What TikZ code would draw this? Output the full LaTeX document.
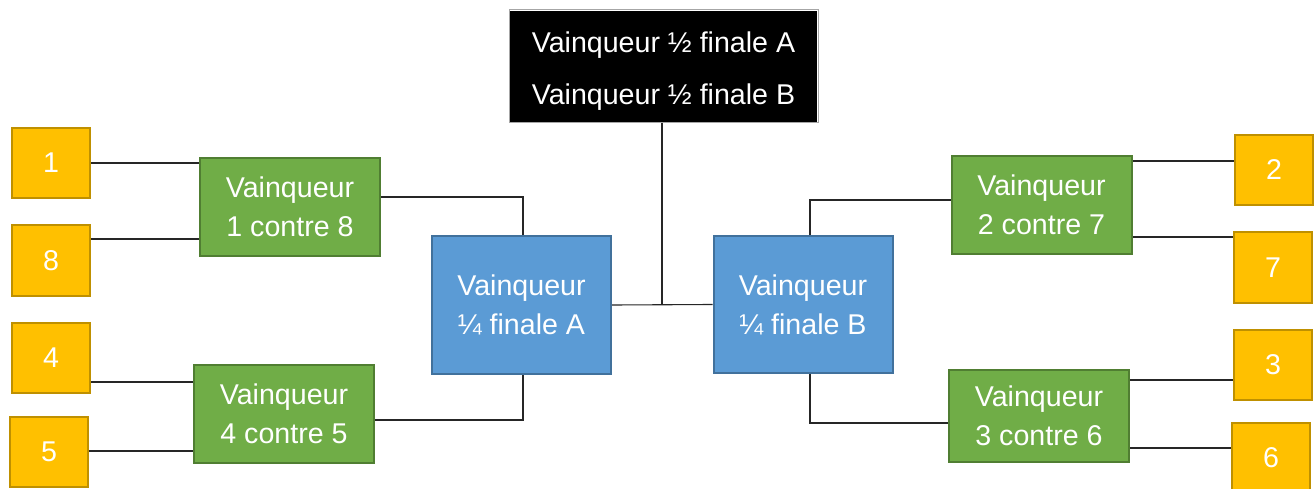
\documentclass[tikz,border=0pt]{standalone}
\usepackage{fontspec}
\setmainfont{Liberation Sans}
\definecolor{yellowfill}{HTML}{FFC000}
\definecolor{yellowline}{HTML}{BF9000}
\definecolor{greenfill}{HTML}{70AD47}
\definecolor{greenline}{HTML}{507E32}
\definecolor{bluefill}{HTML}{5B9BD5}
\definecolor{blueline}{HTML}{41719C}
\tikzset{
  base/.style={font=\fontsize{28.6}{39}\selectfont, text=white, align=center, inner sep=0pt, line width=2pt},
  seed/.style={base, fill=yellowfill, draw=yellowline, minimum width=78pt, minimum height=70pt},
  match/.style={base, fill=greenfill, draw=greenline, minimum width=180pt, minimum height=98pt},
  quarter/.style={base, fill=bluefill, draw=blueline, minimum width=179pt, minimum height=138pt},
  final/.style={base, fill=black, minimum width=307pt, minimum height=55.5pt, text depth=0pt},
  link/.style={draw=black!85, line width=1.1pt},
}
\begin{document}
\begin{tikzpicture}[x=1pt,y=-1pt]
\useasboundingbox[fill=white] (0,0) rectangle (1315,489);
% seeds
\node[seed] (s1) at (51,163) {1};
\node[seed] (s8) at (51,260.5) {8};
\node[seed] (s4) at (51,358) {4};
\node[seed] (s5) at (49,451.5) {5};
\node[seed] (s2) at (1274,170) {2};
\node[seed] (s7) at (1273,267.5) {7};
\node[seed] (s3) at (1273,364.5) {3};
\node[seed] (s6) at (1271,458) {6};
% matches
\node[match] (m18) at (290,207) {Vainqueur\\1 contre 8};
\node[match] (m45) at (284,413.5) {Vainqueur\\4 contre 5};
\node[match] (m27) at (1041.5,205) {Vainqueur\\2 contre 7};
\node[match, minimum height=92pt] (m36) at (1039,415.5) {Vainqueur\\3 contre 6};
% quarter finals
\node[quarter] (qA) at (521.5,305) {Vainqueur\\¼ finale A};
\node[quarter, minimum height=136pt] (qB) at (803,304.5) {Vainqueur\\¼ finale B};
% final
\node[final, text height=27.5pt] (fA) at (663.5,38.5) {Vainqueur ½ finale A};
\node[final, text height=21pt] (fB) at (663.5,94) {Vainqueur ½ finale B};
\draw[gray!70, line width=0.8pt] (fA.north west) rectangle (fB.south east);
% connectors seeds -> matches
\draw[link] (s1.east) -- (s1.east -| m18.west);
\draw[link] ([yshift=21.5pt]s8.east) -- ([yshift=21.5pt]s8.east -| m18.west);
\draw[link] ([yshift=-24pt]s4.east) -- ([yshift=-24pt]s4.east -| m45.west);
\draw[link] ([yshift=0.5pt]s5.east) -- ([yshift=0.5pt]s5.east -| m45.west);
\draw[link] ([yshift=9pt]s2.west) -- ([yshift=9pt]s2.west -| m27.east);
\draw[link] ([yshift=30.5pt]s7.west) -- ([yshift=30.5pt]s7.west -| m27.east);
\draw[link] ([yshift=-15.5pt]s3.west) -- ([yshift=-15.5pt]s3.west -| m36.east);
\draw[link] ([yshift=10pt]s6.west) -- ([yshift=10pt]s6.west -| m36.east);
% matches -> quarter finals
\draw[link] ([yshift=10pt]m18.east) -| ([xshift=1.5pt]qA.north);
\draw[link] ([yshift=-6.5pt]m45.east) -| ([xshift=1.5pt]qA.south);
\draw[link] ([xshift=7pt]qB.north) |- ([yshift=5pt]m27.west);
\draw[link] ([xshift=7pt]qB.south) |- ([yshift=-7.5pt]m36.west);
% quarter finals -> final
\draw[link] (qA.east) -- (qB.west);
\draw[link] ([xshift=-1.5pt]fB.south) -- ([xshift=-1.5pt]fB.south |- qA.east);
\end{tikzpicture}
\end{document}
